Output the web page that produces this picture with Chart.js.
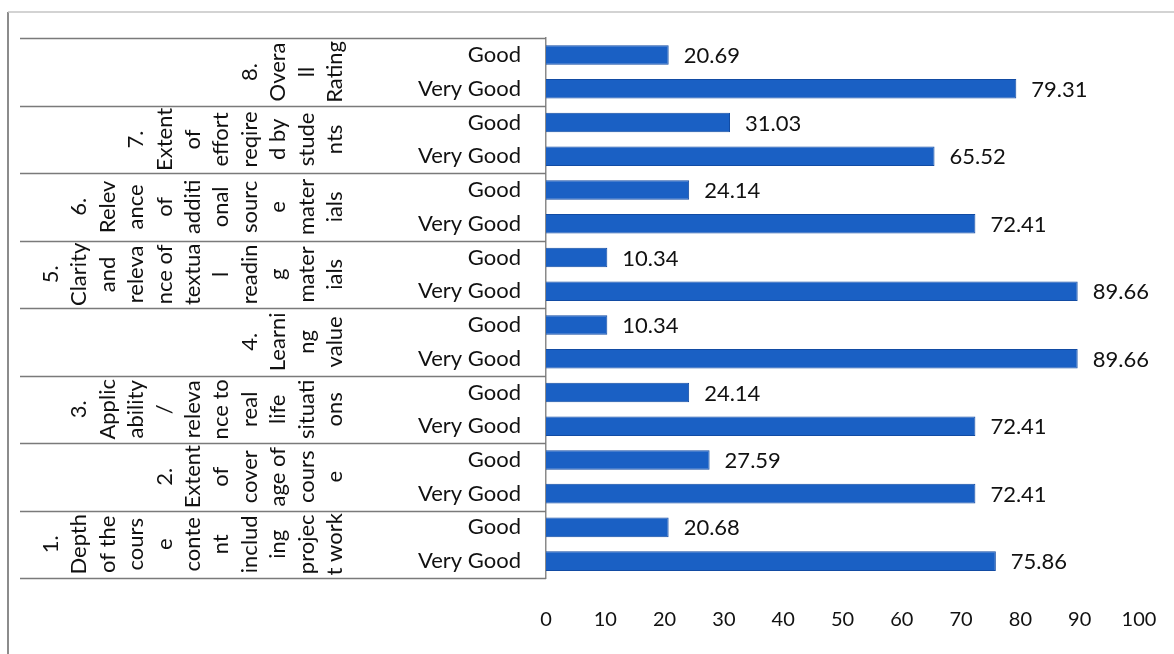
<!DOCTYPE html>
<html lang="en">
<head>
  <meta charset="UTF-8">
  <title>Course rating</title>
  <script src="https://cdn.jsdelivr.net/npm/chart.js@4.4.1/dist/chart.umd.min.js"></script>
  <style>
    html, body { margin: 0; padding: 0; background: #fff; }
    #wrap { position: relative; width: 1174px; height: 654px; }
  </style>
</head>
<body>
  <div id="wrap"><canvas id="chart" width="1174" height="654"></canvas></div>

  <script>
    // questions 1..8, wrapped the way the original cell wraps them
    const groupLines = [
      ['1.', 'Depth', 'of the', 'cours', 'e', 'conte', 'nt', 'includ', 'ing', 'projec', 't work'],
      ['2.', 'Extent', 'of', 'cover', 'age of', 'cours', 'e'],
      ['3.', 'Applic', 'ability', '/', 'releva', 'nce to', 'real', 'life', 'situati', 'ons'],
      ['4.', 'Learni', 'ng', 'value'],
      ['5.', 'Clarity', 'and', 'releva', 'nce of', 'textua', 'l', 'readin', 'g', 'mater', 'ials'],
      ['6.', 'Relev', 'ance', 'of', 'additi', 'onal', 'sourc', 'e', 'mater', 'ials'],
      ['7.', 'Extent', 'of', 'effort', 'reqire', 'd by', 'stude', 'nts'],
      ['8.', 'Overa', 'll', 'Rating']
    ]
    const ratings = ['Good', 'Very Good']
    const good = [20.68, 27.59, 24.14, 10.34, 10.34, 24.14, 31.03, 20.69]
    const veryGood = [75.86, 72.41, 72.41, 89.66, 89.66, 72.41, 65.52, 79.31]
    const xTicks = [0, 10, 20, 30, 40, 50, 60, 70, 80, 90, 100]

    // chart lists question 8 at the top, so walk groups backwards
    const labels = []
    const values = []
    for (let g = groupLines.length - 1; g >= 0; g--) {
      labels.push(ratings[0], ratings[1])
      values.push(good[g], veryGood[g])
    }

    const FONT = 'Lato, "Open Sans", sans-serif'
    const INK = '#111'

    const groupPlugin = {
      id: 'groups',
      beforeDraw(chart) {
        const ctx = chart.ctx
        ctx.save()
        // scanned frame
        ctx.strokeStyle = '#8c8c8c'
        ctx.lineWidth = 2
        ctx.beginPath()
        ctx.moveTo(8, 12); ctx.lineTo(8, 654)
        ctx.stroke()
        ctx.strokeStyle = '#c4c4c4'
        ctx.lineWidth = 1.5
        ctx.beginPath()
        ctx.moveTo(8, 12); ctx.lineTo(1174, 12)
        ctx.stroke()
        ctx.restore()
      },
      afterDraw(chart) {
        const ctx = chart.ctx
        const area = chart.chartArea
        const n = groupLines.length
        const h = (area.bottom - area.top) / n
        ctx.save()
        ctx.strokeStyle = '#7a7a7a'
        ctx.lineWidth = 1.5
        for (let k = 0; k <= n; k++) {
          const y = Math.round(area.top + k * h) + 0.5
          ctx.beginPath()
          ctx.moveTo(20, y); ctx.lineTo(area.left, y)
          ctx.stroke()
        }
        ctx.fillStyle = INK
        ctx.font = '22px ' + FONT
        ctx.textAlign = 'center'
        ctx.textBaseline = 'middle'
        const lastX = 335, pitch = 28.4
        for (let k = 0; k < n; k++) {
          const lines = groupLines[n - 1 - k]
          const cy = area.top + (k + 0.5) * h
          lines.forEach((line, i) => {
            const cx = lastX - (lines.length - 1 - i) * pitch
            ctx.save()
            ctx.translate(cx, cy)
            ctx.rotate(-Math.PI / 2)
            ctx.fillText(line, 0, 0)
            ctx.restore()
          })
        }
        ctx.restore()
      },
      afterDatasetsDraw(chart) {
        const ctx = chart.ctx
        const meta = chart.getDatasetMeta(0)
        ctx.save()
        ctx.fillStyle = INK
        ctx.font = '22px ' + FONT
        ctx.textAlign = 'left'
        ctx.textBaseline = 'middle'
        meta.data.forEach((bar, i) => {
          ctx.fillText(values[i].toFixed(2), bar.x + 15, bar.y + 1)
        })
        ctx.restore()
      }
    }

    new Chart(document.getElementById('chart'), {
      type: 'bar',
      data: {
        labels: labels,
        datasets: [{
          data: values,
          backgroundColor: '#1a60c4',
          borderColor: '#124ba3',
          borderWidth: 1,
          barPercentage: 0.58,
          categoryPercentage: 1
        }]
      },
      options: {
        indexAxis: 'y',
        responsive: false,
        animation: false,
        layout: { padding: { left: 0, right: 35, top: 38, bottom: 0 } },
        plugins: { legend: { display: false }, tooltip: { enabled: false } },
        scales: {
          x: {
            min: 0,
            max: 100,
            afterBuildTicks(scale) { scale.ticks = xTicks.map(v => ({ value: v })) },
            afterFit(scale) {
              scale.height = 654 - 578
              scale.paddingLeft = 0
              scale.paddingRight = 0
            },
            grid: { display: false, drawTicks: false },
            border: { display: false },
            ticks: { padding: 30, color: INK, font: { family: FONT, size: 20 }, maxRotation: 0 }
          },
          y: {
            afterFit(scale) { scale.width = 546 },
            grid: { display: false, drawTicks: false },
            border: { display: true, color: '#8a8a8a', width: 1.5 },
            ticks: { padding: 25, color: INK, font: { family: FONT, size: 22 } }
          }
        }
      },
      plugins: [groupPlugin]
    })
  </script>
</body>
</html>
